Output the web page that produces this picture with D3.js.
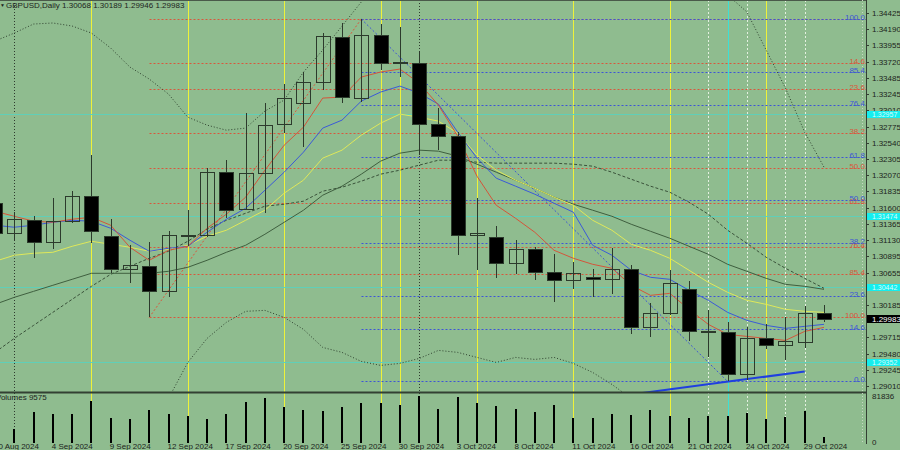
<!DOCTYPE html>
<html>
<head>
<meta charset="utf-8">
<script src="https://cdn.jsdelivr.net/npm/d3@7/dist/d3.min.js"></script>
<style>
  body { margin: 0; background: #8fbc8f; }
  svg { display: block; font-family: "Liberation Sans", Arial, sans-serif; font-size: 8px; }
</style>
</head>
<body>
<script>
var dates = ["30 Aug 2024","2 Sep 2024","3 Sep 2024","4 Sep 2024","5 Sep 2024","6 Sep 2024",
  "9 Sep 2024","10 Sep 2024","11 Sep 2024","12 Sep 2024","13 Sep 2024",
  "16 Sep 2024","17 Sep 2024","18 Sep 2024","19 Sep 2024","20 Sep 2024",
  "23 Sep 2024","24 Sep 2024","25 Sep 2024","26 Sep 2024","27 Sep 2024",
  "30 Sep 2024","1 Oct 2024","2 Oct 2024","3 Oct 2024","4 Oct 2024",
  "7 Oct 2024","8 Oct 2024","9 Oct 2024","10 Oct 2024","11 Oct 2024",
  "14 Oct 2024","15 Oct 2024","16 Oct 2024","17 Oct 2024","18 Oct 2024",
  "21 Oct 2024","22 Oct 2024","23 Oct 2024","24 Oct 2024","25 Oct 2024",
  "28 Oct 2024","29 Oct 2024","30 Oct 2024"];

var openP  = [1.31663,1.31227,1.31416,1.31097,1.31402,1.31765,1.31184,1.30704,1.30748,1.30384,1.31184,1.31198,1.32114,1.31576,1.32099,1.32812,1.33117,1.33422,1.34076,1.33190,1.34105,1.33713,1.33698,1.32812,1.32637,1.31198,1.31169,1.30791,1.30995,1.30660,1.30544,1.30588,1.30559,1.30704,1.29861,1.30064,1.30413,1.29803,1.29788,1.29178,1.29701,1.29599,1.29643,1.30068];
var highP  = [1.31730,1.31533,1.31474,1.31736,1.31838,1.32361,1.31431,1.31053,1.31097,1.31256,1.31562,1.32172,1.32288,1.32972,1.33117,1.33393,1.33567,1.34134,1.34280,1.34338,1.34265,1.34222,1.33873,1.33044,1.32695,1.31736,1.31329,1.31126,1.31024,1.30922,1.30806,1.30704,1.31009,1.30762,1.30210,1.30690,1.30530,1.30108,1.29934,1.29861,1.29905,1.30006,1.30166,1.30189];
var lowP   = [1.31100,1.31126,1.30864,1.30995,1.31373,1.31082,1.30646,1.30501,1.30006,1.30297,1.31038,1.31169,1.31445,1.31562,1.31518,1.32681,1.32477,1.33306,1.33117,1.33131,1.33597,1.33495,1.32361,1.32434,1.30908,1.30690,1.30573,1.30631,1.30544,1.30224,1.30413,1.30297,1.30341,1.29759,1.29716,1.30035,1.29658,1.29425,1.29076,1.29091,1.29541,1.29381,1.29556,1.29946];
var closeP = [1.31227,1.31431,1.31097,1.31402,1.31765,1.31256,1.30704,1.30762,1.30384,1.31198,1.31198,1.32114,1.31562,1.32099,1.32797,1.33190,1.33422,1.34091,1.33204,1.34105,1.33698,1.33698,1.32812,1.32637,1.31198,1.31227,1.30791,1.30995,1.30660,1.30544,1.30646,1.30559,1.30704,1.29861,1.30064,1.30501,1.29803,1.29788,1.29178,1.29701,1.29599,1.29658,1.30064,1.29983];

var volumes = [61000,23100,53400,49800,49800,72900,42700,40900,56900,49800,46300,40900,49800,71200,78300,62300,56900,55200,62300,69400,69400,65800,81836,58700,80100,69400,64000,58700,53400,65800,42700,42700,49800,48000,56900,46300,42700,46300,46300,51600,40900,44500,55200,9575];

// indicator lines (one value per bar, null = off the chart)
var maRed    = [1.31547,1.31474,1.31402,1.31387,1.31431,1.31460,1.31344,1.31024,1.30835,1.30980,1.31038,1.31300,1.31504,1.31751,1.32143,1.32506,1.32768,1.33190,1.33204,1.33495,1.33568,1.33611,1.33408,1.33088,1.32637,1.32056,1.31634,1.31445,1.31242,1.30980,1.30864,1.30777,1.30719,1.30472,1.30326,1.30355,1.30123,1.29905,1.29759,1.29730,1.29701,1.29672,1.29803,1.29861];
var maBlue   = [1.31344,1.31315,1.31344,1.31387,1.31416,1.31402,1.31300,1.31126,1.30966,1.31009,1.31038,1.31242,1.31431,1.31591,1.31852,1.32114,1.32405,1.32754,1.32870,1.33146,1.33277,1.33364,1.33262,1.33102,1.32695,1.32318,1.32027,1.31911,1.31794,1.31663,1.31533,1.31053,1.30908,1.30690,1.30588,1.30559,1.30399,1.30254,1.30079,1.29963,1.29890,1.29847,1.29876,1.29905];
var maYellow = [1.30820,1.30908,1.30937,1.30951,1.31038,1.31111,1.31068,1.31024,1.30966,1.30995,1.31053,1.31184,1.31271,1.31416,1.31562,1.31809,1.31998,1.32318,1.32434,1.32652,1.32826,1.32957,1.32913,1.32855,1.32681,1.32361,1.32143,1.31998,1.31881,1.31751,1.31634,1.31416,1.31271,1.31068,1.30980,1.30864,1.30690,1.30515,1.30370,1.30254,1.30195,1.30123,1.30094,1.30079];
var maDark   = [1.30195,1.30297,1.30384,1.30472,1.30559,1.30646,1.30646,1.30646,1.30646,1.30675,1.30733,1.30835,1.30951,1.31053,1.31213,1.31387,1.31562,1.31780,1.31911,1.32085,1.32274,1.32390,1.32434,1.32419,1.32347,1.32230,1.32114,1.31998,1.31881,1.31751,1.31649,1.31562,1.31474,1.31358,1.31256,1.31155,1.31038,1.30922,1.30777,1.30675,1.30573,1.30486,1.30457,1.30413];
var maDashed = [1.29498,1.29701,1.29890,1.30079,1.30268,1.30457,1.30631,1.30748,1.30864,1.30966,1.31111,1.31286,1.31416,1.31518,1.31620,1.31649,1.31693,1.31838,1.31896,1.31983,1.32085,1.32143,1.32216,1.32288,1.32288,1.32259,1.32245,1.32245,1.32245,1.32245,1.32230,1.32201,1.32114,1.32012,1.31911,1.31823,1.31678,1.31504,1.31271,1.31082,1.30879,1.30719,1.30573,1.30428];
var bandUpper = [1.34018,1.34134,1.34265,1.34280,1.34236,1.34134,1.33916,1.33640,1.33466,1.33248,1.32913,1.32797,1.32724,1.32754,1.33001,1.33161,1.33567,1.33887,1.34236,1.34585,1.34905,null,null,null,null,null,null,null,null,null,null,null,null,null,null,null,null,null,1.34687,1.34440,1.33887,1.33335,1.32695,1.32187];
var bandLower = [null,null,null,null,null,null,null,null,null,1.28829,1.29352,1.29701,1.29934,1.30094,1.30108,1.30006,1.29832,1.29570,1.29498,1.29367,1.29309,1.29338,1.29410,1.29527,1.29498,1.29425,1.29352,1.29425,1.29396,1.29425,1.29338,1.29207,1.29033,1.28829,null,null,null,null,null,null,null,null,null,null];

// fibonacci retracements
var fibLevels = [0, 14.6, 23.6, 38.2, 50, 61.8, 76.4, 85.4, 100];
var fibRedDates = ["11 Sep 2024", "26 Sep 2024"];
var fibRedPrices = [1.30006, 1.34338];     // 100 level, 0 level
var fibBlueDates = ["26 Sep 2024", "23 Oct 2024"];
var fibBluePrices = [1.34338, 1.29076];    // 100 level, 0 level

var levelPrices = [1.32957, 1.31474, 1.30442, 1.29352];
var trendDates = ["16 Oct 2024", "29 Oct 2024"];
var trendPrices = [1.28887, 1.29221];

var yellowDates = ["6 Sep 2024","13 Sep 2024","20 Sep 2024","27 Sep 2024","30 Sep 2024","4 Oct 2024","11 Oct 2024","18 Oct 2024","25 Oct 2024"];
var separatorDates = ["2 Sep 2024", "1 Oct 2024"];
var cyanDates = ["23 Oct 2024"];
var whiteDates = ["22 Oct 2024","24 Oct 2024","28 Oct 2024","29 Oct 2024"];

// 1.30420 and 1.29950 are hidden under the price tags
var priceTicks = [1.34425,1.34190,1.33955,1.33720,1.33485,1.33245,1.33010,1.32775,1.32540,1.32305,1.32070,1.31835,1.31600,1.31365,1.31130,1.30895,1.30655,1.30185,1.29715,1.29480,1.29245,1.29010];
var dateTicks = ["30 Aug 2024","4 Sep 2024","9 Sep 2024","12 Sep 2024","17 Sep 2024","20 Sep 2024","25 Sep 2024","30 Sep 2024","3 Oct 2024","8 Oct 2024","11 Oct 2024","16 Oct 2024","21 Oct 2024","24 Oct 2024","29 Oct 2024"];
var volumeTicks = [81836, 0];
var lastPrice = 1.29983;

var width = 900, height = 450;
var plotRight = 866;
var mainBottom = 392, volBottom = 443;

var x = d3.scalePoint().domain(dates).range([-5, 824]);
var y = d3.scaleLinear().domain([1.29010, 1.34425]).range([386, 13]);
var yv = d3.scaleLinear().domain([0, 81836]).range([442, 396]);

function px(d) { return Math.round(x(d)) + 0.5; }
function py(v) { return Math.round(y(v)) + 0.5; }

var svg = d3.select("body")
    .append("svg")
    .attr("width", width)
    .attr("height", height);

svg.append("rect").attr("width", width).attr("height", height).attr("fill", "#8fbc8f");

var defs = svg.append("defs");
defs.append("clipPath").attr("id", "clipMain")
    .append("rect").attr("x", 0).attr("y", 0).attr("width", plotRight).attr("height", mainBottom);
defs.append("clipPath").attr("id", "clipAll")
    .append("rect").attr("x", 0).attr("y", 0).attr("width", plotRight).attr("height", volBottom);

// vertical marker lines (both panels)
var vlines = svg.append("g").attr("clip-path", "url(#clipAll)");
function vline(list, color, dash) {
    vlines.selectAll(null)
        .data(list)
        .enter()
        .append("line")
        .attr("x1", px).attr("x2", px)
        .attr("y1", 0).attr("y2", volBottom)
        .attr("stroke", color)
        .attr("stroke-dasharray", dash);
}
vline(whiteDates, "#e4f0e0", "2,2");
vline(yellowDates, "#eef23a", null);
vline(cyanDates, "#3ce0d6", null);
vline(separatorDates, "#2e3a2e", "1,2");

var main = svg.append("g").attr("clip-path", "url(#clipMain)");

// horizontal levels
main.selectAll(".lvl")
    .data(levelPrices)
    .enter()
    .append("line")
    .attr("x1", 0).attr("x2", plotRight)
    .attr("y1", py).attr("y2", py)
    .attr("stroke", "#60cfb8");

// fibonacci
function fib(fDates, fPrices, color) {
    var p100 = fPrices[0], p0 = fPrices[1];
    main.append("line")
        .attr("x1", x(fDates[0])).attr("y1", y(fPrices[0]))
        .attr("x2", x(fDates[1])).attr("y2", y(fPrices[1]))
        .attr("stroke", color).attr("stroke-dasharray", "2,2");
    main.selectAll(null)
        .data(fibLevels)
        .enter()
        .append("line")
        .attr("x1", px(fDates[0])).attr("x2", plotRight)
        .attr("y1", function(l) { return py(p0 + (p100 - p0) * l / 100); })
        .attr("y2", function(l) { return py(p0 + (p100 - p0) * l / 100); })
        .attr("stroke", color).attr("stroke-dasharray", "2,2");
}
fib(fibRedDates, fibRedPrices, "#d9573c");
fib(fibBlueDates, fibBluePrices, "#3d55d6");

// bands and moving averages
function series(values, color, dash) {
    var line = d3.line()
        .defined(function(v) { return v != null; })
        .x(function(v, i) { return x(dates[i]); })
        .y(function(v) { return y(v); });
    main.append("path")
        .attr("d", line(values))
        .attr("fill", "none")
        .attr("stroke", color)
        .attr("stroke-dasharray", dash);
}
series(bandUpper, "#2f422f", "1,2");
series(bandLower, "#2f422f", "1,2");
series(maDashed, "#3a523a", "3,2");
series(maDark, "#3f5f3f", null);
series(maYellow, "#dfe85a", null);
series(maBlue, "#3b5ad8", null);
series(maRed, "#d4553a", null);

// support trend line
main.append("line")
    .attr("x1", x(trendDates[0])).attr("y1", y(trendPrices[0]))
    .attr("x2", x(trendDates[1])).attr("y2", y(trendPrices[1]))
    .attr("stroke", "#1f3fe0").attr("stroke-width", 2);

// candles
var candles = dates.map(function(d, i) {
    return {date: d, o: openP[i], h: highP[i], l: lowP[i], c: closeP[i]};
});
var candle = main.selectAll(".candle")
    .data(candles)
    .enter()
    .append("g");
candle.append("line")
    .attr("x1", function(d) { return px(d.date); })
    .attr("x2", function(d) { return px(d.date); })
    .attr("y1", function(d) { return Math.round(y(d.h)); })
    .attr("y2", function(d) { return Math.round(y(d.l)); })
    .attr("stroke", "#2c3a2c");
candle.append("rect")
    .attr("x", function(d) { return px(d.date) - 7; })
    .attr("width", 14)
    .attr("y", function(d) { return py(Math.max(d.o, d.c)); })
    .attr("height", function(d) { return Math.max(0.01, py(Math.min(d.o, d.c)) - py(Math.max(d.o, d.c))); })
    .attr("fill", function(d) { return d.c > d.o ? "none" : "#000"; })
    .attr("stroke", "#2c3a2c");

// volumes
svg.append("g").attr("clip-path", "url(#clipAll)")
    .selectAll("rect")
    .data(volumes)
    .enter()
    .append("rect")
    .attr("x", function(v, i) { return Math.round(x(dates[i])) - 1; })
    .attr("width", 2)
    .attr("y", function(v) { return Math.round(yv(v)); })
    .attr("height", function(v) { return volBottom - Math.round(yv(v)); })
    .attr("fill", "#000");

// frame
svg.append("line").attr("x1", 0).attr("x2", plotRight).attr("y1", 0.5).attr("y2", 0.5).attr("stroke", "#4a5a4a");
svg.append("line").attr("x1", 0).attr("x2", plotRight).attr("y1", mainBottom + 0.5).attr("y2", mainBottom + 0.5)
    .attr("stroke", "#334033").attr("stroke-width", 2);
svg.append("line").attr("x1", plotRight - 3.5).attr("x2", plotRight - 3.5).attr("y1", 0).attr("y2", volBottom)
    .attr("stroke", "#c6d8c2").attr("stroke-dasharray", "1,2");
svg.append("line").attr("x1", plotRight + 0.5).attr("x2", plotRight + 0.5).attr("y1", 0).attr("y2", volBottom + 1)
    .attr("stroke", "#334033");

// fib labels (the red 0.0 sits under the blue 100.0)
function fibLabels(fPrices, color, skip) {
    var p100 = fPrices[0], p0 = fPrices[1];
    svg.selectAll(null)
        .data(fibLevels.filter(function(l) { return l !== skip; }))
        .enter()
        .append("text")
        .attr("x", plotRight - 1)
        .attr("y", function(l) { return Math.round(y(p0 + (p100 - p0) * l / 100)) + 1; })
        .attr("text-anchor", "end")
        .attr("fill", color)
        .text(function(l) { return l.toFixed(1); });
}
fibLabels(fibRedPrices, "#d9573c", 0);
fibLabels(fibBluePrices, "#3d55d6", null);

// price axis
var axis = svg.append("g");
axis.selectAll(".tick")
    .data(priceTicks)
    .enter()
    .append("text")
    .attr("x", 872)
    .attr("y", function(v) { return y(v) + 3; })
    .attr("fill", "#1c241c")
    .text(function(v) { return v.toFixed(5); });
axis.selectAll(".tk")
    .data(priceTicks)
    .enter()
    .append("line")
    .attr("x1", plotRight).attr("x2", plotRight + 3)
    .attr("y1", py).attr("y2", py)
    .attr("stroke", "#334033");

var tag = axis.selectAll(".lvltag")
    .data(levelPrices)
    .enter()
    .append("g");
tag.append("rect")
    .attr("x", plotRight + 1).attr("width", width - plotRight - 1)
    .attr("y", function(v) { return Math.round(y(v)) - 3; })
    .attr("height", 7)
    .attr("fill", "#14eeee");
tag.append("text")
    .attr("x", 872)
    .attr("y", function(v) { return Math.round(y(v)) + 3; })
    .attr("fill", "#dafcfc")
    .attr("font-size", 7)
    .text(function(v) { return v.toFixed(5); });

axis.append("rect")
    .attr("x", plotRight + 1).attr("width", width - plotRight - 1)
    .attr("y", Math.round(y(lastPrice)) - 4).attr("height", 8)
    .attr("fill", "#000");
axis.append("text")
    .attr("x", 872).attr("y", Math.round(y(lastPrice)) + 3)
    .attr("fill", "#fff")
    .text(lastPrice.toFixed(5));

// volume axis
axis.selectAll(".vt")
    .data(volumeTicks)
    .enter()
    .append("text")
    .attr("x", 872)
    .attr("y", function(v) { return yv(v) + 3; })
    .attr("fill", "#1c241c")
    .text(function(v) { return v; });

// date axis
svg.selectAll(".dt")
    .data(dateTicks)
    .enter()
    .append("text")
    .attr("x", function(d) { return x(d) - 1; })
    .attr("y", 449)
    .attr("fill", "#1c241c")
    .text(function(d) { return d; });

// titles
svg.append("text").attr("x", 6).attr("y", 8).attr("fill", "#1c241c")
    .text("GBPUSD,Daily " + [openP[43], highP[43], lowP[43], closeP[43]].map(function(v) { return v.toFixed(5); }).join(" "));
svg.append("text").attr("x", 0).attr("y", 7).attr("fill", "#1c241c").attr("font-size", 5).text("\u25BC");
svg.append("text").attr("x", -4).attr("y", 400).attr("fill", "#1c241c")
    .text("Volumes " + volumes[volumes.length - 1]);
</script>
</body>
</html>
